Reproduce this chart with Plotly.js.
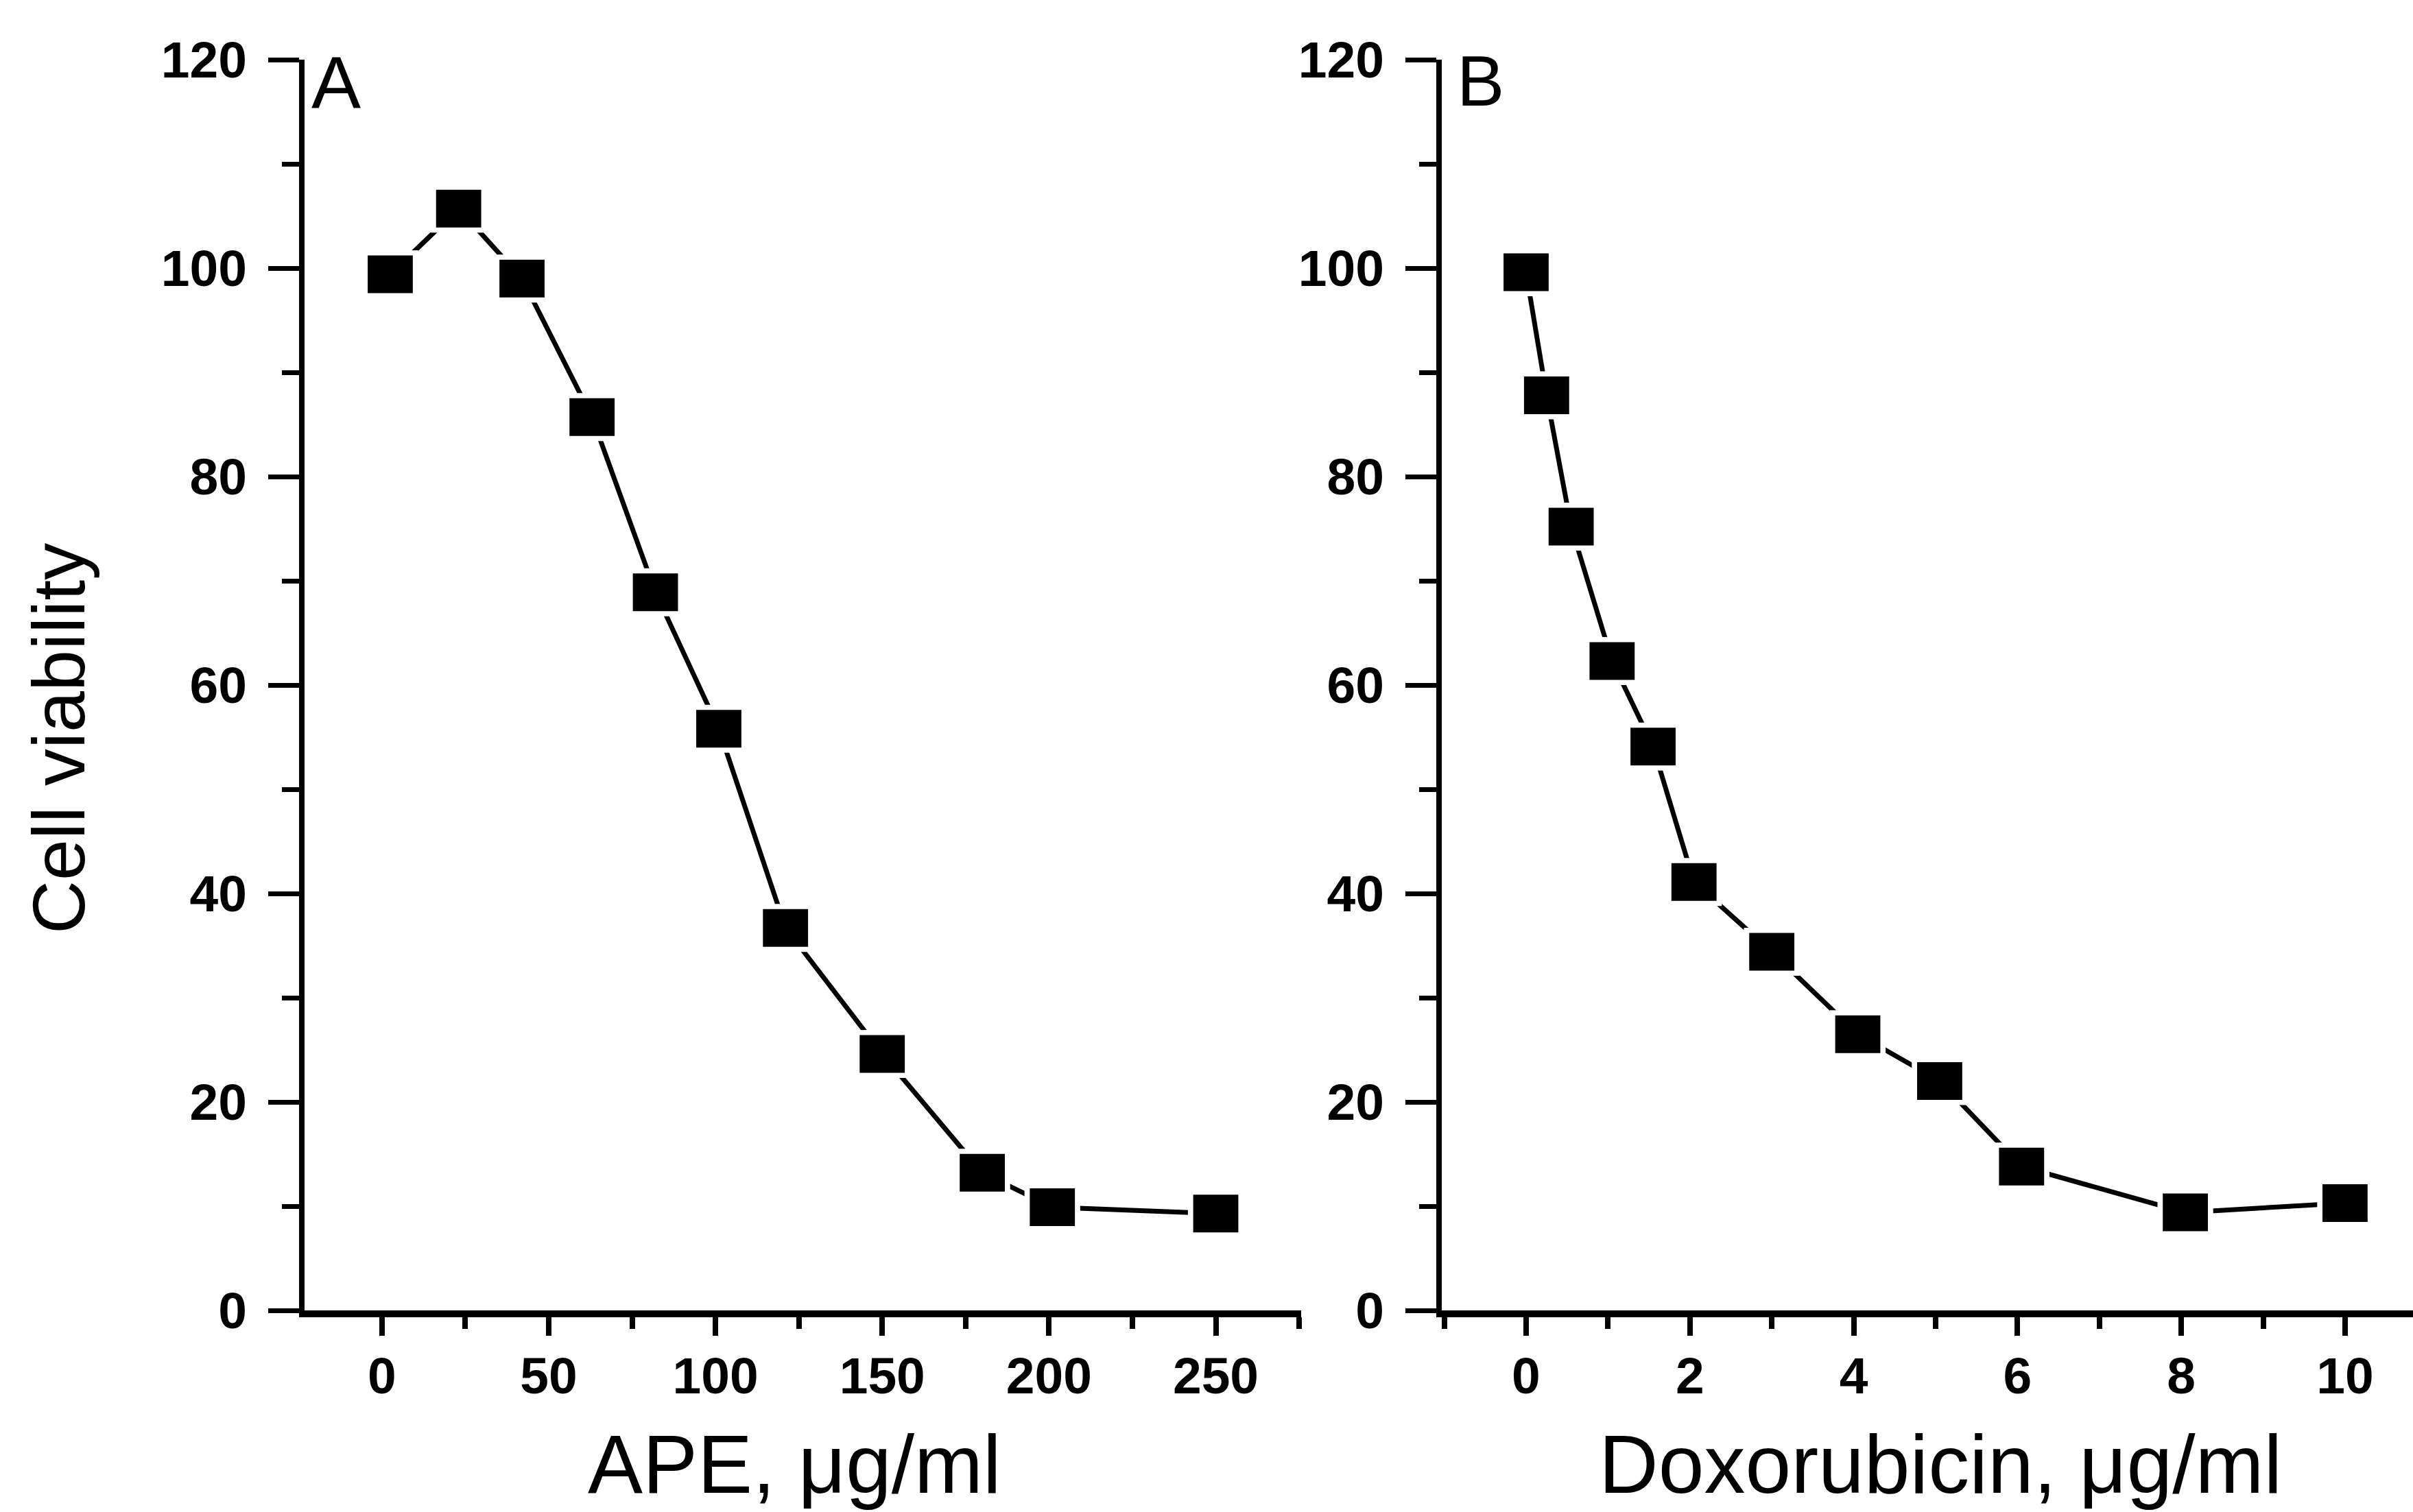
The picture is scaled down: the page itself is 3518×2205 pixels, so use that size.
<!DOCTYPE html>
<html><head><meta charset="utf-8">
<script src="https://cdn.plot.ly/plotly-3.0.1.min.js"></script>
<style>html,body{margin:0;padding:0;background:#fff}#chart{width:3518px;height:2205px}</style>
</head><body><div id="chart"></div>
<script>
// ---- data ----
const apeConc = [2.5, 23, 42, 63, 82, 101, 121, 150, 180, 201, 250];
const apeViability = [99.4, 105.7, 99.0, 85.7, 68.9, 55.8, 36.7, 24.6, 13.2, 9.9, 9.3];
const doxConc = [0, 0.25, 0.55, 1.05, 1.55, 2.05, 3.0, 4.05, 5.05, 6.05, 8.05, 10.0];
const doxViability = [99.6, 87.8, 75.2, 62.3, 54.1, 41.1, 34.4, 26.5, 22.0, 13.8, 9.4, 10.3];
const yTickVals = [0, 20, 40, 60, 80, 100, 120];
const yTickText = ['0', '20', '40', '60', '80', '100', '120'];
const apeTickVals = [0, 50, 100, 150, 200, 250];
const apeTickText = ['0', '50', '100', '150', '200', '250'];
const doxTickVals = [0, 2, 4, 6, 8, 10];
const doxTickText = ['0', '2', '4', '6', '8', '10'];
const panelLabels = ['A', 'B'];
const yTitle = 'Cell viability';
const apeTitle = 'APE, μg/ml';
const doxTitle = 'Doxorubicin, μg/ml';

// ---- geometry (pixels of the 3518x2205 page) ----
const W = 3518, H = 2205;
const px = v => v / W, py = v => (H - v) / H;

function traces(x, y, xa, ya) {
  return [
    {x: x, y: y, xaxis: xa, yaxis: ya, mode: 'lines', line: {color: '#000', width: 7}, hoverinfo: 'skip'},
    {x: x, y: y, xaxis: xa, yaxis: ya, mode: 'markers', hoverinfo: 'skip',
     marker: {symbol: 'line-ew', size: 58, color: '#fff', line: {width: 70, color: '#fff'}}},
    {x: x, y: y, xaxis: xa, yaxis: ya, mode: 'markers',
     marker: {symbol: 'line-ew', size: 47, color: '#000', line: {width: 55, color: '#000'}}}
  ];
}

const tickFont = {family: 'Liberation Sans, Arial, sans-serif', size: 75, color: '#000', weight: 'bold'};
function xAxis(domain, range, vals, text, minorD) {
  return {domain: domain, range: range, showline: true, linewidth: 10, linecolor: '#000',
    ticks: 'outside', ticklen: 27, tickwidth: 8, tickcolor: '#000', ticklabelstandoff: -6,
    tickmode: 'array', tickvals: vals, ticktext: text, tickfont: tickFont,
    minor: {tickmode: 'linear', tick0: 0, dtick: minorD, ticks: 'outside', ticklen: 17, tickwidth: 8, tickcolor: '#000', showgrid: false},
    showgrid: false, zeroline: false, fixedrange: true};
}
function yAxis(anchor) {
  return {domain: [py(1911), py(87)], range: [0, 120], anchor: anchor, showline: true, linewidth: 8, linecolor: '#000',
    ticks: 'outside', ticklen: 45, tickwidth: 7, tickcolor: '#000', ticklabelstandoff: 16,
    tickmode: 'array', tickvals: yTickVals, ticktext: yTickText, tickfont: tickFont,
    minor: {tickmode: 'linear', tick0: 0, dtick: 10, ticks: 'outside', ticklen: 25, tickwidth: 7, tickcolor: '#000', showgrid: false},
    showgrid: false, zeroline: false, fixedrange: true};
}

const data = [].concat(traces(apeConc, apeViability, 'x', 'y'), traces(doxConc, doxViability, 'x2', 'y2'));
const titleFont = {family: 'Liberation Sans, Arial, sans-serif', size: 120, color: '#000'};
const layout = {
  width: W, height: H, margin: {l: 0, r: 0, t: 0, b: 0},
  paper_bgcolor: '#fff', plot_bgcolor: 'rgba(0,0,0,0)', showlegend: false,
  xaxis: xAxis([px(444), px(1897)], [-23.2, 275.6], apeTickVals, apeTickText, 25),
  yaxis: yAxis('x'),
  xaxis2: xAxis([px(2102), 1], [-1.03, 10.83], doxTickVals, doxTickText, 1),
  yaxis2: yAxis('x2'),
  annotations: [
    {text: panelLabels[0], xref: 'paper', yref: 'paper', x: px(452), y: py(58), xanchor: 'left', yanchor: 'top', showarrow: false,
     font: {family: 'Liberation Sans, Arial, sans-serif', size: 108, color: '#000'}},
    {text: panelLabels[1], xref: 'paper', yref: 'paper', x: px(2122), y: py(58), xanchor: 'left', yanchor: 'top', showarrow: false,
     font: {family: 'Liberation Sans, Arial, sans-serif', size: 104, color: '#000'}},
    {text: yTitle, xref: 'paper', yref: 'paper', x: px(85), y: py(1077), xanchor: 'center', yanchor: 'middle', textangle: -90, showarrow: false,
     font: {family: 'Liberation Sans, Arial, sans-serif', size: 108, color: '#000'}},
    {text: apeTitle, xref: 'paper', yref: 'paper', x: px(1158), y: py(2204), xanchor: 'center', yanchor: 'bottom', showarrow: false, font: titleFont},
    {text: doxTitle, xref: 'paper', yref: 'paper', x: px(2829), y: py(2204), xanchor: 'center', yanchor: 'bottom', showarrow: false, font: titleFont}
  ]
};
Plotly.newPlot('chart', data, layout, {displayModeBar: false, staticPlot: true});
</script></body></html>
